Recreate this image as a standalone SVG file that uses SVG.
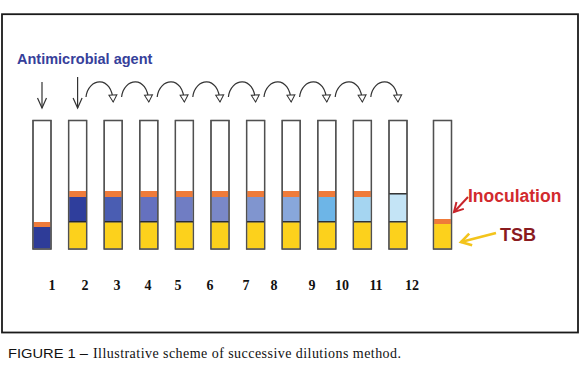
<svg xmlns="http://www.w3.org/2000/svg" width="579" height="366" viewBox="0 0 579 366">
<style>
.tube{fill:#ffffff;stroke:#505050;stroke-width:1.3}
.org{fill:#ef7b3a}
.yel{fill:#fcd11c}
.sep{stroke:#111;stroke-width:1.3}
.num{font-family:"Liberation Serif",serif;font-weight:bold;font-size:14px;fill:#111;text-anchor:middle}
.arc{fill:none;stroke:#333;stroke-width:1.2}
.down{fill:none;stroke:#333;stroke-width:1.2}
</style>
<defs>
<marker id="tri" markerUnits="userSpaceOnUse" markerWidth="10" markerHeight="10" refX="7" refY="4" orient="auto" overflow="visible">
<path d="M0,0 L7,4 L0,8 Z" fill="#fff" stroke="#333" stroke-width="1"/>
</marker>
<marker id="vee" markerUnits="userSpaceOnUse" markerWidth="12" markerHeight="12" refX="10" refY="5" orient="auto" overflow="visible">
<path d="M0,0.5 L10,5 L0,9.5" fill="none" stroke="#333" stroke-width="1.2"/>
</marker>
<marker id="veeRed" markerUnits="userSpaceOnUse" markerWidth="12" markerHeight="12" refX="9" refY="5" orient="auto" overflow="visible">
<path d="M0,0 L9,5 L0,10" fill="none" stroke="#c8242a" stroke-width="2"/>
</marker>
<marker id="veeYel" markerUnits="userSpaceOnUse" markerWidth="12" markerHeight="12" refX="10" refY="6" orient="auto" overflow="visible">
<path d="M0,0 L10,6 L0,12" fill="none" stroke="#f3c41c" stroke-width="2.6"/>
</marker>
</defs>
<rect x="2" y="14.2" width="576" height="318.3" fill="none" stroke="#1a1a1a" stroke-width="1.8"/>
<g id="title">
<text x="17" y="63.5" font-family="Liberation Sans,Arial,sans-serif" font-weight="bold" font-size="14.5" fill="#36409a">Antimicrobial agent</text>
</g>
<g id="tube1"><rect class="tube" x="33" y="120.5" width="18" height="128.5"/><rect x="33.6" y="227" width="16.8" height="21.4" fill="#2e3c98"/><rect class="org" x="33.6" y="222" width="16.8" height="5"/><rect x="33" y="120.5" width="18" height="128.5" fill="none" stroke="#505050" stroke-width="1.3"/></g>
<g id="tube2"><rect class="tube" x="68.6" y="120.5" width="18" height="128.5"/><rect x="69.2" y="197" width="16.8" height="24.5" fill="#2f3e9c"/><rect class="org" x="69.2" y="191" width="16.8" height="6"/><rect class="yel" x="69.2" y="222.3" width="16.8" height="26.1"/><line class="sep" x1="68.6" y1="221.8" x2="86.6" y2="221.8"/><rect x="68.6" y="120.5" width="18" height="128.5" fill="none" stroke="#505050" stroke-width="1.3"/></g>
<g id="tube3"><rect class="tube" x="104.2" y="120.5" width="18" height="128.5"/><rect x="104.8" y="197" width="16.8" height="24.5" fill="#4a5db2"/><rect class="org" x="104.8" y="191" width="16.8" height="6"/><rect class="yel" x="104.8" y="222.3" width="16.8" height="26.1"/><line class="sep" x1="104.2" y1="221.8" x2="122.2" y2="221.8"/><rect x="104.2" y="120.5" width="18" height="128.5" fill="none" stroke="#505050" stroke-width="1.3"/></g>
<g id="tube4"><rect class="tube" x="139.8" y="120.5" width="18" height="128.5"/><rect x="140.4" y="197" width="16.8" height="24.5" fill="#6571bf"/><rect class="org" x="140.4" y="191" width="16.8" height="6"/><rect class="yel" x="140.4" y="222.3" width="16.8" height="26.1"/><line class="sep" x1="139.8" y1="221.8" x2="157.8" y2="221.8"/><rect x="139.8" y="120.5" width="18" height="128.5" fill="none" stroke="#505050" stroke-width="1.3"/></g>
<g id="tube5"><rect class="tube" x="175.4" y="120.5" width="18" height="128.5"/><rect x="176" y="197" width="16.8" height="24.5" fill="#707dc3"/><rect class="org" x="176" y="191" width="16.8" height="6"/><rect class="yel" x="176" y="222.3" width="16.8" height="26.1"/><line class="sep" x1="175.4" y1="221.8" x2="193.4" y2="221.8"/><rect x="175.4" y="120.5" width="18" height="128.5" fill="none" stroke="#505050" stroke-width="1.3"/></g>
<g id="tube6"><rect class="tube" x="211" y="120.5" width="18" height="128.5"/><rect x="211.6" y="197" width="16.8" height="24.5" fill="#7a88c8"/><rect class="org" x="211.6" y="191" width="16.8" height="6"/><rect class="yel" x="211.6" y="222.3" width="16.8" height="26.1"/><line class="sep" x1="211" y1="221.8" x2="229" y2="221.8"/><rect x="211" y="120.5" width="18" height="128.5" fill="none" stroke="#505050" stroke-width="1.3"/></g>
<g id="tube7"><rect class="tube" x="246.6" y="120.5" width="18" height="128.5"/><rect x="247.2" y="197" width="16.8" height="24.5" fill="#8095cf"/><rect class="org" x="247.2" y="191" width="16.8" height="6"/><rect class="yel" x="247.2" y="222.3" width="16.8" height="26.1"/><line class="sep" x1="246.6" y1="221.8" x2="264.6" y2="221.8"/><rect x="246.6" y="120.5" width="18" height="128.5" fill="none" stroke="#505050" stroke-width="1.3"/></g>
<g id="tube8"><rect class="tube" x="282.2" y="120.5" width="18" height="128.5"/><rect x="282.8" y="197" width="16.8" height="24.5" fill="#88a7db"/><rect class="org" x="282.8" y="191" width="16.8" height="6"/><rect class="yel" x="282.8" y="222.3" width="16.8" height="26.1"/><line class="sep" x1="282.2" y1="221.8" x2="300.2" y2="221.8"/><rect x="282.2" y="120.5" width="18" height="128.5" fill="none" stroke="#505050" stroke-width="1.3"/></g>
<g id="tube9"><rect class="tube" x="317.8" y="120.5" width="18" height="128.5"/><rect x="318.4" y="197" width="16.8" height="24.5" fill="#6db5e7"/><rect class="org" x="318.4" y="191" width="16.8" height="6"/><rect class="yel" x="318.4" y="222.3" width="16.8" height="26.1"/><line class="sep" x1="317.8" y1="221.8" x2="335.8" y2="221.8"/><rect x="317.8" y="120.5" width="18" height="128.5" fill="none" stroke="#505050" stroke-width="1.3"/></g>
<g id="tube10"><rect class="tube" x="353.4" y="120.5" width="18" height="128.5"/><rect x="354" y="197" width="16.8" height="24.5" fill="#a5d5f1"/><rect class="org" x="354" y="191" width="16.8" height="6"/><rect class="yel" x="354" y="222.3" width="16.8" height="26.1"/><line class="sep" x1="353.4" y1="221.8" x2="371.4" y2="221.8"/><rect x="353.4" y="120.5" width="18" height="128.5" fill="none" stroke="#505050" stroke-width="1.3"/></g>
<g id="tube11"><rect class="tube" x="389" y="120.5" width="18" height="128.5"/><rect x="389.6" y="194" width="16.8" height="27.5" fill="#c4e4f6"/><line class="sep" x1="389" y1="193.8" x2="407" y2="193.8"/><rect class="yel" x="389.6" y="222.3" width="16.8" height="26.1"/><line class="sep" x1="389" y1="221.8" x2="407" y2="221.8"/><rect x="389" y="120.5" width="18" height="128.5" fill="none" stroke="#505050" stroke-width="1.3"/></g>
<g id="control"><rect class="tube" x="433.5" y="120.5" width="18" height="128.5"/><rect class="org" x="434.1" y="219" width="16.8" height="5"/><rect class="yel" x="434.1" y="224" width="16.8" height="24.4"/><rect x="433.5" y="120.5" width="18" height="128.5" fill="none" stroke="#505050" stroke-width="1.3"/></g>
<g id="numbers">
<text class="num" x="52" y="290">1</text>
<text class="num" x="85" y="290">2</text>
<text class="num" x="117" y="290">3</text>
<text class="num" x="148" y="290">4</text>
<text class="num" x="178" y="290">5</text>
<text class="num" x="210" y="290">6</text>
<text class="num" x="246" y="290">7</text>
<text class="num" x="274" y="290">8</text>
<text class="num" x="312" y="290">9</text>
<text class="num" x="342" y="290">10</text>
<text class="num" x="376" y="290">11</text>
<text class="num" x="412" y="290">12</text>
</g>
<g id="label-inoculation"><text x="468" y="201.5" font-family="Liberation Sans,Arial,sans-serif" font-weight="bold" font-size="17.5" fill="#d22a2e">Inoculation</text></g>
<g id="label-tsb"><text x="500" y="240.5" font-family="Liberation Sans,Arial,sans-serif" font-weight="bold" font-size="18" fill="#8a1b1f">TSB</text></g>
<g id="connectors">
<line class="down" x1="42" y1="82" x2="42" y2="108" marker-end="url(#vee)"/>
<line class="down" x1="77.6" y1="77" x2="77.6" y2="108" marker-end="url(#vee)"/>
<path class="arc" d="M86,97 C88,78 112,74 113.2,102" marker-end="url(#tri)"/>
<path class="arc" d="M121.6,97 C123.6,78 147.6,74 148.8,102" marker-end="url(#tri)"/>
<path class="arc" d="M157.2,97 C159.2,78 183.2,74 184.4,102" marker-end="url(#tri)"/>
<path class="arc" d="M192.8,97 C194.8,78 218.8,74 220,102" marker-end="url(#tri)"/>
<path class="arc" d="M228.4,97 C230.4,78 254.4,74 255.6,102" marker-end="url(#tri)"/>
<path class="arc" d="M264,97 C266,78 290,74 291.2,102" marker-end="url(#tri)"/>
<path class="arc" d="M299.6,97 C301.6,78 325.6,74 326.8,102" marker-end="url(#tri)"/>
<path class="arc" d="M335.2,97 C337.2,78 361.2,74 362.4,102" marker-end="url(#tri)"/>
<path class="arc" d="M370.8,97 C372.8,78 396.8,74 398,102" marker-end="url(#tri)"/>
<line x1="468" y1="197" x2="454" y2="212" stroke="#c8242a" stroke-width="2" marker-end="url(#veeRed)"/>
<line x1="496" y1="233" x2="461" y2="242" stroke="#f3c41c" stroke-width="2.8" marker-end="url(#veeYel)"/>
</g>
<g id="caption">
<text x="8" y="357.5" font-family="Liberation Sans,Arial,sans-serif" font-size="13" fill="#111" textLength="80" lengthAdjust="spacingAndGlyphs">FIGURE 1 –</text>
<text x="93" y="357.5" font-family="Liberation Serif,Times New Roman,serif" font-size="14" fill="#111" textLength="308" lengthAdjust="spacing">Illustrative scheme of successive dilutions method.</text>
</g>
</svg>
